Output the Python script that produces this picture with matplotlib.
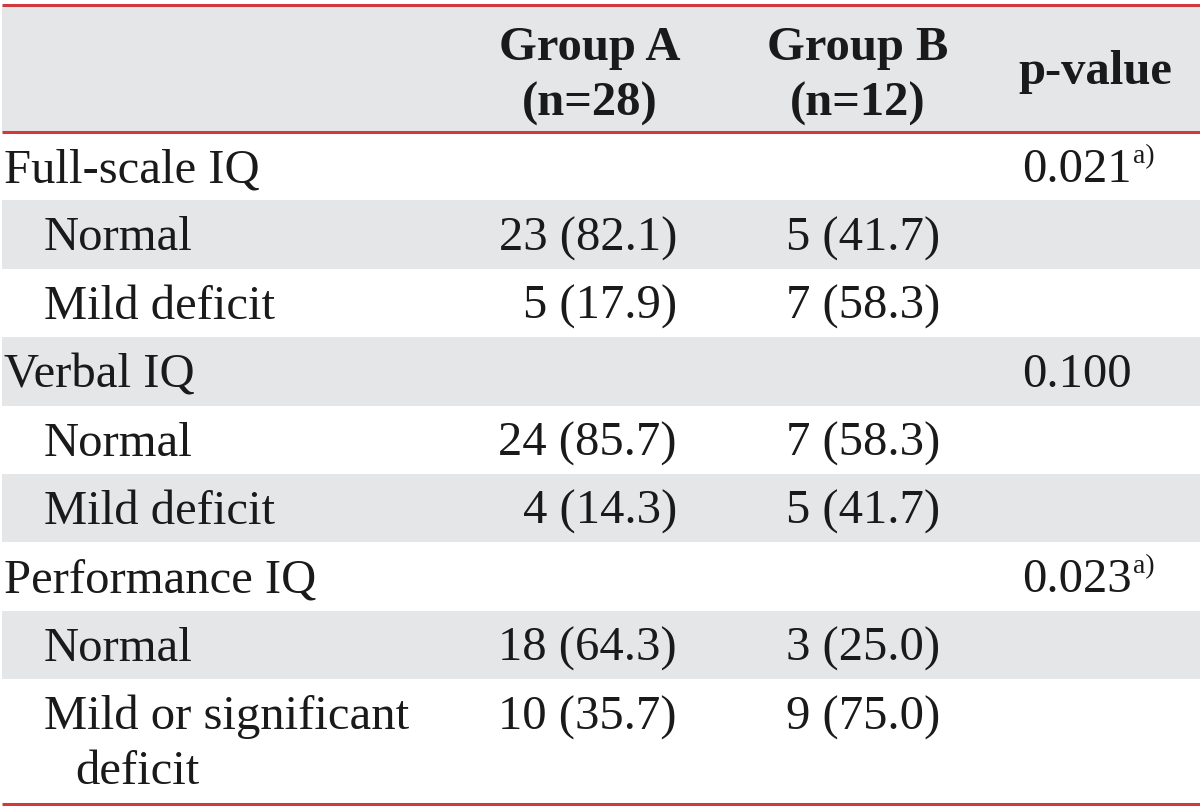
import matplotlib.pyplot as plt
from matplotlib.patches import Rectangle

# table content
row_labels = ['Full-scale IQ', 'Normal', 'Mild deficit',
              'Verbal IQ', 'Normal', 'Mild deficit',
              'Performance IQ', 'Normal', 'Mild or significant\ndeficit']
is_sub = [False, True, True, False, True, True, False, True, True]
group_a_n = [23, 5, 24, 4, 18, 10]
group_a_pct = [82.1, 17.9, 85.7, 14.3, 64.3, 35.7]
group_b_n = [5, 7, 7, 5, 3, 9]
group_b_pct = [41.7, 58.3, 58.3, 41.7, 25.0, 75.0]
p_values = ['0.021', '0.100', '0.023']
p_notes = ['a)', '', 'a)']
headers = ['Group A\n(n=28)', 'Group B\n(n=12)', 'p-value']

RED = '#cf3a3f'
GRAY = '#e5e6e8'
INK = '#1a1a1a'
FONT = 'Liberation Serif'
FS = 35

fig = plt.figure(figsize=(12, 8.12), dpi=100)
ax = fig.add_axes([0, 0, 1, 1])
ax.set_xlim(0, 1200)
ax.set_ylim(812, 0)
ax.axis('off')

# row boundaries (pixels)
header_top, header_bot = 7, 133
row_h = 68.4
row_tops = [header_bot + i * row_h for i in range(9)]
row_bots = row_tops[1:] + [804]

# backgrounds
ax.add_patch(Rectangle((2, header_top), 1198, header_bot - header_top, color=GRAY, lw=0))
for i, (t, b) in enumerate(zip(row_tops, row_bots)):
    if i % 2 == 1:
        ax.add_patch(Rectangle((2, t), 1198, b - t, color=GRAY, lw=0))

# rules
for y in [header_top - 1, header_bot, 805]:
    ax.hlines(y, 2, 1200, color=RED, lw=2.2)

# header
hx = [590, 858, 1095]
for x, h in zip(hx, headers):
    ax.text(x, 76 if '\n' in h else 72, h, ha='center', va='center', fontsize=FS,
            fontweight='bold', family=FONT, linespacing=1.35, color=INK)


def baseline(i):
    # first-line baseline of a row
    return row_tops[i] + 49


# body
for i, lab in enumerate(row_labels):
    x = 44 if is_sub[i] else 4
    for j, line in enumerate(lab.split('\n')):
        ax.text(x + (31 if j else 0), baseline(i) + 55 * j, line, ha='left',
                va='baseline', fontsize=FS, family=FONT, color=INK)

data_rows = [i for i in range(9) if is_sub[i]]
head_rows = [i for i in range(9) if not is_sub[i]]
for k, i in enumerate(data_rows):
    ax.text(677, baseline(i), f'{group_a_n[k]} ({group_a_pct[k]:.1f})', ha='right',
            va='baseline', fontsize=FS, family=FONT, color=INK)
    ax.text(940, baseline(i), f'{group_b_n[k]} ({group_b_pct[k]:.1f})', ha='right',
            va='baseline', fontsize=FS, family=FONT, color=INK)

for k, i in enumerate(head_rows):
    t = ax.text(1022, baseline(i), p_values[k], ha='left', va='baseline', fontsize=FS,
                family=FONT, color=INK)
    if p_notes[k]:
        ax.annotate(p_notes[k], xy=(1, 1), xycoords=t, xytext=(1, 3),
                    textcoords='offset points', ha='left', va='top',
                    fontsize=20, family=FONT, color=INK)

fig.savefig('out.png', dpi=100)
